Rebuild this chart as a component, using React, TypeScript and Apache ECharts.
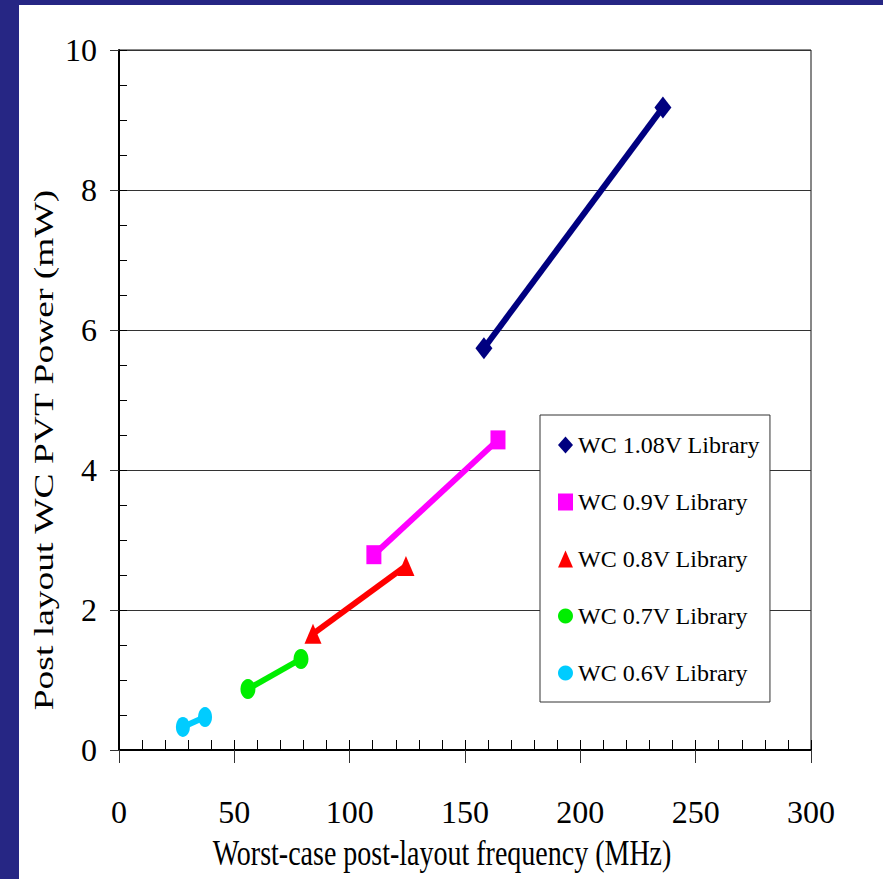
import React, { useEffect, useRef } from "react";
import * as echarts from "echarts";

const seriesNames = [
  "WC 1.08V Library",
  "WC 0.9V Library",
  "WC 0.8V Library",
  "WC 0.7V Library",
  "WC 0.6V Library",
];
const freq108 = [158.2, 235.8];
const power108 = [5.74, 9.18];
const freq09 = [110.5, 164.3];
const power09 = [2.79, 4.43];
const freq08 = [84.1, 124.4];
const power08 = [1.66, 2.63];
const freq07 = [55.9, 78.9];
const power07 = [0.87, 1.3];
const freq06 = [27.7, 37.3];
const power06 = [0.33, 0.47];

const xTicks = [0, 50, 100, 150, 200, 250, 300];
const yTicks = [0, 2, 4, 6, 8, 10];

const xTitle = "Worst-case post-layout frequency (MHz)";
const yTitle = "Post layout WC PVT Power (mW)";

const colors = ["#000080", "#ff00ff", "#ff0000", "#00ee00", "#00ccff"];
const symbols = ["diamond", "rect", "triangle", "circle", "circle"];
const symbolSizes: [number, number][] = [
  [17, 22],
  [15, 19],
  [17, 20],
  [15, 20],
  [14, 20],
];

const FONT = "'Liberation Serif', 'Times New Roman', serif";

function pairs(xs: number[], ys: number[]) {
  return xs.map((x, i) => [x, ys[i]]);
}

export default function App() {
  const ref = useRef<HTMLDivElement>(null);
  useEffect(() => {
    document.body.style.margin = "0";
    if (!ref.current) return;
    const chart = echarts.init(ref.current, null, { renderer: "svg" });
    const data = [
      pairs(freq108, power108),
      pairs(freq09, power09),
      pairs(freq08, power08),
      pairs(freq07, power07),
      pairs(freq06, power06),
    ];
    const xMin = xTicks[0];
    const xMax = xTicks[xTicks.length - 1];
    const yMin = yTicks[0];
    const yMax = yTicks[yTicks.length - 1];
    chart.setOption({
      animation: false,
      backgroundColor: "#ffffff",
      grid: {
        left: 119,
        top: 50,
        right: 72,
        bottom: 129,
        show: true,
        borderColor: "#111",
        borderWidth: 1,
      },
      xAxis: [
        {
          type: "value",
          min: xMin,
          max: xMax,
          interval: 50,
          position: "bottom",
          axisLine: { show: true, lineStyle: { color: "#000", width: 2 } },
          axisTick: { show: true, inside: false, length: 13, lineStyle: { color: "#333", width: 1 } },
          axisLabel: {
            show: true,
            margin: 46,
            fontFamily: FONT,
            fontSize: 32,
            color: "#000",
          },
          splitLine: { show: false },
        },
        {
          type: "value",
          min: xMin,
          max: xMax,
          interval: 10,
          position: "bottom",
          offset: 0,
          axisLine: { show: false },
          axisTick: { show: true, inside: true, length: 10, lineStyle: { color: "#000", width: 1 } },
          axisLabel: { show: false },
          splitLine: { show: false },
        },
      ],
      yAxis: [
        {
          type: "value",
          min: yMin,
          max: yMax,
          interval: 2,
          position: "left",
          axisLine: { show: true, lineStyle: { color: "#000", width: 2 } },
          axisTick: { show: true, inside: false, length: 9, lineStyle: { color: "#333", width: 1 } },
          axisLabel: {
            show: true,
            margin: 22,
            fontFamily: FONT,
            fontSize: 32,
            color: "#000",
          },
          splitLine: { show: true, lineStyle: { color: "#333", width: 1 } },
        },
        {
          type: "value",
          min: yMin,
          max: yMax,
          interval: 0.5,
          position: "left",
          offset: 0,
          axisLine: { show: false },
          axisTick: { show: true, inside: true, length: 8, lineStyle: { color: "#000", width: 1 } },
          axisLabel: { show: false },
          splitLine: { show: false },
        },
      ],
      legend: {
        orient: "vertical",
        left: 540,
        top: 415,
        padding: [17, 10, 16, 18],
        itemGap: 31,
        itemWidth: 15,
        itemHeight: 17,
        backgroundColor: "#fff",
        borderColor: "#333",
        borderWidth: 1,
        textStyle: { fontFamily: FONT, fontSize: 24, color: "#000", lineHeight: 26 },
        data: seriesNames.map((n, i) => ({
          name: n,
          icon: symbols[i],
        })),
      },
      series: seriesNames.map((name, i) => ({
        name,
        type: "line",
        xAxisIndex: 0,
        yAxisIndex: 0,
        data: data[i],
        symbol: symbols[i],
        symbolSize: symbolSizes[i],
        showSymbol: true,
        lineStyle: { color: colors[i], width: 6 },
        itemStyle: { color: colors[i] },
        z: 3 + (4 - i),
      })),
      graphic: [
        { type: "rect", left: 0, top: 0, shape: { width: 19, height: 879 }, style: { fill: "#262684" }, z: 100 },
        { type: "rect", left: 0, top: 0, shape: { width: 883, height: 5 }, style: { fill: "#262684" }, z: 100 },
        {
          type: "text",
          x: 442,
          y: 853,
          scaleY: 1.25,
          style: {
            text: xTitle,
            fontFamily: FONT,
            fontSize: 28,
            fill: "#000",
            align: "center",
            verticalAlign: "middle",
          },
        },
        {
          type: "text",
          x: 44,
          y: 450,
          rotation: Math.PI / 2,
          scaleX: 1.34,
          style: {
            text: yTitle,
            fontFamily: FONT,
            fontSize: 28,
            fill: "#000",
            align: "center",
            verticalAlign: "middle",
          },
        },
      ],
    });
    return () => chart.dispose();
  }, []);
  return <div ref={ref} style={{ width: 883, height: 879 }} />;
}
